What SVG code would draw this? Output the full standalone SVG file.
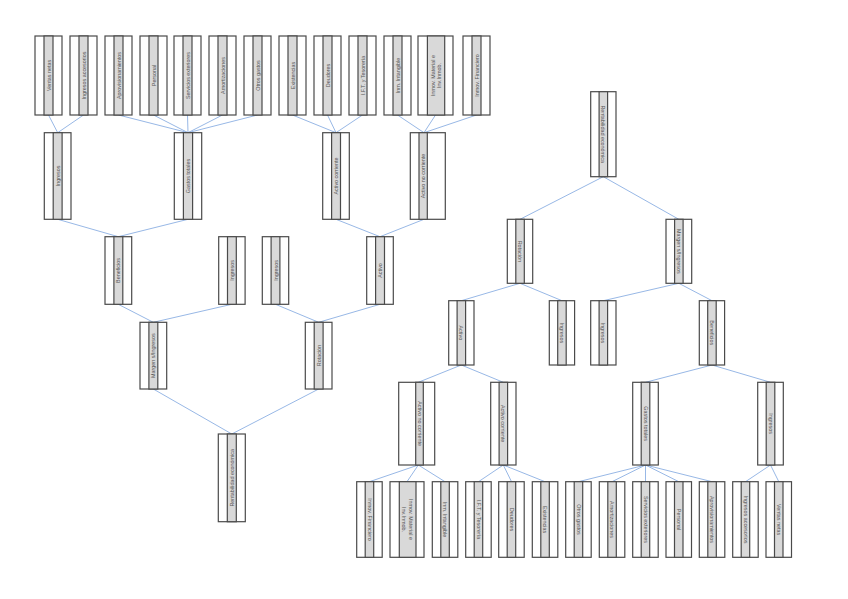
<svg xmlns="http://www.w3.org/2000/svg" width="848" height="599" viewBox="0 0 848 599">
<style>
.o{fill:#ffffff;stroke:#4a4a4a;stroke-width:1.2}
.m{fill:#d9d9d9;stroke:#4a4a4a;stroke-width:1.2}
.t{font-family:"Liberation Sans",Arial,sans-serif;font-size:5.4px;fill:#555555;text-anchor:middle;dominant-baseline:central}
.c line{stroke:#98b8e6;stroke-width:1}
</style>
<rect width="848" height="599" fill="#ffffff"/>
<g class="c" id="connectors">
<line x1="48.5" y1="115" x2="57.7" y2="132.7"/>
<line x1="83.5" y1="115" x2="57.7" y2="132.7"/>
<line x1="118.5" y1="115" x2="188" y2="132.7"/>
<line x1="153.5" y1="115" x2="188" y2="132.7"/>
<line x1="187.5" y1="115" x2="188" y2="132.7"/>
<line x1="222.5" y1="115" x2="188" y2="132.7"/>
<line x1="257.5" y1="115" x2="188" y2="132.7"/>
<line x1="292.5" y1="115" x2="336" y2="132.7"/>
<line x1="327.5" y1="115" x2="336" y2="132.7"/>
<line x1="362.5" y1="115" x2="336" y2="132.7"/>
<line x1="397.5" y1="115" x2="424" y2="132.7"/>
<line x1="435.5" y1="115" x2="424" y2="132.7"/>
<line x1="476.5" y1="115" x2="424" y2="132.7"/>
<line x1="57.7" y1="219.3" x2="118.3" y2="236.7"/>
<line x1="188" y1="219.3" x2="118.3" y2="236.7"/>
<line x1="336" y1="219.3" x2="380" y2="236.7"/>
<line x1="424" y1="219.3" x2="380" y2="236.7"/>
<line x1="118.3" y1="304.3" x2="153.3" y2="322.3"/>
<line x1="231.8" y1="304.3" x2="153.3" y2="322.3"/>
<line x1="275.5" y1="304.3" x2="318.7" y2="322.3"/>
<line x1="380" y1="304.3" x2="318.7" y2="322.3"/>
<line x1="153.3" y1="389" x2="231.8" y2="434"/>
<line x1="318.7" y1="389" x2="231.8" y2="434"/>
<line x1="603.3" y1="176.7" x2="520" y2="219.3"/>
<line x1="603.3" y1="176.7" x2="678.8" y2="219.3"/>
<line x1="520" y1="283.3" x2="461.3" y2="300.7"/>
<line x1="520" y1="283.3" x2="562" y2="300.7"/>
<line x1="678.8" y1="283.3" x2="603.3" y2="300.7"/>
<line x1="678.8" y1="283.3" x2="712" y2="300.7"/>
<line x1="461.3" y1="365" x2="418.3" y2="382.3"/>
<line x1="461.3" y1="365" x2="503.3" y2="382.3"/>
<line x1="712" y1="365" x2="645.5" y2="382.3"/>
<line x1="712" y1="365" x2="770.5" y2="382.3"/>
<line x1="418.3" y1="465" x2="369.5" y2="481.7"/>
<line x1="418.3" y1="465" x2="407" y2="481.7"/>
<line x1="418.3" y1="465" x2="445" y2="481.7"/>
<line x1="503.3" y1="465" x2="478.5" y2="481.7"/>
<line x1="503.3" y1="465" x2="511.5" y2="481.7"/>
<line x1="503.3" y1="465" x2="545" y2="481.7"/>
<line x1="645.5" y1="465" x2="578.5" y2="481.7"/>
<line x1="645.5" y1="465" x2="612" y2="481.7"/>
<line x1="645.5" y1="465" x2="645.5" y2="481.7"/>
<line x1="645.5" y1="465" x2="678.8" y2="481.7"/>
<line x1="645.5" y1="465" x2="712" y2="481.7"/>
<line x1="770.5" y1="465" x2="745.5" y2="481.7"/>
<line x1="770.5" y1="465" x2="778.8" y2="481.7"/>
</g>

<g id="L-ventas"><rect class="o" x="35" y="36" width="27" height="79"/><rect class="m" x="44" y="36" width="9" height="79"/><text class="t" transform="translate(48.5,75.5) rotate(-90)">Ventas netas</text></g>
<g id="L-ingacc"><rect class="o" x="70" y="36" width="27" height="79"/><rect class="m" x="79" y="36" width="9" height="79"/><text class="t" transform="translate(83.5,75.5) rotate(-90)">Ingresos accesorios</text></g>
<g id="L-aprov"><rect class="o" x="105" y="36" width="27" height="79"/><rect class="m" x="114" y="36" width="9" height="79"/><text class="t" transform="translate(118.5,75.5) rotate(-90)">Aprovisionamientos</text></g>
<g id="L-personal"><rect class="o" x="140" y="36" width="27" height="79"/><rect class="m" x="149" y="36" width="9" height="79"/><text class="t" transform="translate(153.5,75.5) rotate(-90)">Personal</text></g>
<g id="L-servext"><rect class="o" x="174" y="36" width="27" height="79"/><rect class="m" x="183" y="36" width="9" height="79"/><text class="t" transform="translate(187.5,75.5) rotate(-90)">Servicios exteriores</text></g>
<g id="L-amort"><rect class="o" x="209" y="36" width="27" height="79"/><rect class="m" x="218" y="36" width="9" height="79"/><text class="t" transform="translate(222.5,75.5) rotate(-90)">Amortizaciones</text></g>
<g id="L-otros"><rect class="o" x="244" y="36" width="27" height="79"/><rect class="m" x="253" y="36" width="9" height="79"/><text class="t" transform="translate(257.5,75.5) rotate(-90)">Otros gastos</text></g>
<g id="L-exist"><rect class="o" x="279" y="36" width="27" height="79"/><rect class="m" x="288" y="36" width="9" height="79"/><text class="t" transform="translate(292.5,75.5) rotate(-90)">Existencias</text></g>
<g id="L-deud"><rect class="o" x="314" y="36" width="27" height="79"/><rect class="m" x="323" y="36" width="9" height="79"/><text class="t" transform="translate(327.5,75.5) rotate(-90)">Deudores</text></g>
<g id="L-ift"><rect class="o" x="349" y="36" width="27" height="79"/><rect class="m" x="358" y="36" width="9" height="79"/><text class="t" transform="translate(362.5,75.5) rotate(-90)">I.F.T. y Tesorería</text></g>
<g id="L-inmint"><rect class="o" x="384" y="36" width="27" height="79"/><rect class="m" x="393" y="36" width="9" height="79"/><text class="t" transform="translate(397.5,75.5) rotate(-90)">Inm. Intangible</text></g>
<g id="L-inmmat"><rect class="o" x="418" y="36" width="35" height="79"/><rect class="m" x="427.4" y="36" width="17.3" height="79"/><text class="t" transform="translate(436,75.5) rotate(-90)"><tspan x="0" dy="-3.2">Inmov. Material e</tspan><tspan x="0" dy="6.6">Inv.Inmob.</tspan></text></g>
<g id="L-inmfin"><rect class="o" x="463" y="36" width="27" height="79"/><rect class="m" x="472" y="36" width="9" height="79"/><text class="t" transform="translate(476.5,75.5) rotate(-90)">Inmov. Financiero</text></g>

<g id="L-ingresos"><rect class="o" x="44.3" y="132.7" width="26.7" height="86.6"/><rect class="m" x="53.2" y="132.7" width="8.9" height="86.6"/><text class="t" transform="translate(57.7,176) rotate(-90)">Ingresos</text></g>
<g id="L-gastos"><rect class="o" x="174.3" y="132.7" width="27.4" height="86.6"/><rect class="m" x="183.4" y="132.7" width="9.2" height="86.6"/><text class="t" transform="translate(188,176) rotate(-90)">Gastos totales</text></g>
<g id="L-actcorr"><rect class="o" x="322.7" y="132.7" width="26.6" height="86.6"/><rect class="m" x="331.6" y="132.7" width="8.9" height="86.6"/><text class="t" transform="translate(336,176) rotate(-90)">Activo corriente</text></g>
<g id="L-actnocorr"><rect class="o" x="410.3" y="132.7" width="35" height="86.6"/><rect class="m" x="419" y="132.7" width="8.3" height="86.6"/><text class="t" transform="translate(423.2,176) rotate(-90)">Activo no corriente</text></g>

<g id="L-benef"><rect class="o" x="105" y="236.7" width="26.7" height="67.6"/><rect class="m" x="113.9" y="236.7" width="8.9" height="67.6"/><text class="t" transform="translate(118.3,270.5) rotate(-90)">Beneficios</text></g>
<g id="L-ingresos2"><rect class="o" x="218.7" y="236.7" width="26.4" height="67.6"/><rect class="m" x="227.5" y="236.7" width="8.8" height="67.6"/><text class="t" transform="translate(231.9,270.5) rotate(-90)">Ingresos</text></g>
<g id="L-ingresos3"><rect class="o" x="262.3" y="236.7" width="26.4" height="67.6"/><rect class="m" x="271.1" y="236.7" width="8.8" height="67.6"/><text class="t" transform="translate(275.5,270.5) rotate(-90)">Ingresos</text></g>
<g id="L-activo"><rect class="o" x="366.7" y="236.7" width="26.6" height="67.6"/><rect class="m" x="375.6" y="236.7" width="8.9" height="67.6"/><text class="t" transform="translate(380,270.5) rotate(-90)">Activo</text></g>

<g id="L-margen"><rect class="o" x="140" y="322.3" width="26.7" height="66.7"/><rect class="m" x="148.9" y="322.3" width="8.9" height="66.7"/><text class="t" transform="translate(153.3,355.6) rotate(-90)">Margen s/Ingresos</text></g>
<g id="L-rotacion"><rect class="o" x="305.3" y="322.3" width="26.7" height="66.7"/><rect class="m" x="314.2" y="322.3" width="8.9" height="66.7"/><text class="t" transform="translate(318.7,355.6) rotate(-90)">Rotación</text></g>

<g id="L-rentab"><rect class="o" x="218.3" y="434" width="27" height="87.7"/><rect class="m" x="227.3" y="434" width="9" height="87.7"/><text class="t" transform="translate(231.8,477.8) rotate(-90)">Rentabilidad económica</text></g>

<g id="R-rentab"><rect class="o" x="590.7" y="91.7" width="25.3" height="85"/><rect class="m" x="599.1" y="91.7" width="8.5" height="85"/><text class="t" transform="translate(603.3,134.2) rotate(90)">Rentabilidad económica</text></g>

<g id="R-rotacion"><rect class="o" x="507.3" y="219.3" width="25.4" height="64"/><rect class="m" x="515.8" y="219.3" width="8.5" height="64"/><text class="t" transform="translate(520,251.3) rotate(90)">Rotación</text></g>
<g id="R-margen"><rect class="o" x="666" y="219.3" width="25.7" height="64"/><rect class="m" x="674.6" y="219.3" width="8.5" height="64"/><text class="t" transform="translate(678.8,251.3) rotate(90)">Margen s/Ingresos</text></g>

<g id="R-activo"><rect class="o" x="448.7" y="300.7" width="25.3" height="64.3"/><rect class="m" x="457.1" y="300.7" width="8.5" height="64.3"/><text class="t" transform="translate(461.3,332.8) rotate(90)">Activo</text></g>
<g id="R-ingresos1"><rect class="o" x="549.3" y="300.7" width="25.3" height="64.3"/><rect class="m" x="557.7" y="300.7" width="8.5" height="64.3"/><text class="t" transform="translate(562,332.8) rotate(90)">Ingresos</text></g>
<g id="R-ingresos2"><rect class="o" x="590.7" y="300.7" width="25.3" height="64.3"/><rect class="m" x="599.1" y="300.7" width="8.5" height="64.3"/><text class="t" transform="translate(603.3,332.8) rotate(90)">Ingresos</text></g>
<g id="R-benef"><rect class="o" x="699.3" y="300.7" width="25.3" height="64.3"/><rect class="m" x="707.7" y="300.7" width="8.5" height="64.3"/><text class="t" transform="translate(712,332.8) rotate(90)">Beneficios</text></g>

<g id="R-actnocorr"><rect class="o" x="398.7" y="382.3" width="36" height="82.7"/><rect class="m" x="415.7" y="382.3" width="7.6" height="82.7"/><text class="t" transform="translate(419.5,423.6) rotate(90)">Activo no corriente</text></g>
<g id="R-actcorr"><rect class="o" x="490.7" y="382.3" width="25.3" height="82.7"/><rect class="m" x="499.1" y="382.3" width="8.5" height="82.7"/><text class="t" transform="translate(503.3,423.6) rotate(90)">Activo corriente</text></g>
<g id="R-gastos"><rect class="o" x="632.7" y="382.3" width="25.6" height="82.7"/><rect class="m" x="641.2" y="382.3" width="8.6" height="82.7"/><text class="t" transform="translate(645.5,423.6) rotate(90)">Gastos totales</text></g>
<g id="R-ingresos"><rect class="o" x="757.7" y="382.3" width="25.6" height="82.7"/><rect class="m" x="766.2" y="382.3" width="8.6" height="82.7"/><text class="t" transform="translate(770.5,423.6) rotate(90)">Ingresos</text></g>

<g id="R-inmfin"><rect class="o" x="356.7" y="481.7" width="25.5" height="75.6"/><rect class="m" x="365.2" y="481.7" width="8.5" height="75.6"/><text class="t" transform="translate(369.5,519.5) rotate(90)">Inmov. Financiero</text></g>
<g id="R-inmmat"><rect class="o" x="390" y="481.7" width="34" height="75.6"/><rect class="m" x="399.3" y="481.7" width="16.7" height="75.6"/><text class="t" transform="translate(407.6,519.5) rotate(90)"><tspan x="0" dy="-3.2">Inmov. Material e</tspan><tspan x="0" dy="6.6">Inv.Inmob.</tspan></text></g>
<g id="R-inmint"><rect class="o" x="432.3" y="481.7" width="25.5" height="75.6"/><rect class="m" x="440.8" y="481.7" width="8.5" height="75.6"/><text class="t" transform="translate(445,519.5) rotate(90)">Inm. Intangible</text></g>
<g id="R-ift"><rect class="o" x="465.7" y="481.7" width="25.5" height="75.6"/><rect class="m" x="474.2" y="481.7" width="8.5" height="75.6"/><text class="t" transform="translate(478.5,519.5) rotate(90)">I.F.T. y Tesorería</text></g>
<g id="R-deud"><rect class="o" x="498.7" y="481.7" width="25.5" height="75.6"/><rect class="m" x="507.2" y="481.7" width="8.5" height="75.6"/><text class="t" transform="translate(511.5,519.5) rotate(90)">Deudores</text></g>
<g id="R-exist"><rect class="o" x="532.3" y="481.7" width="25.5" height="75.6"/><rect class="m" x="540.8" y="481.7" width="8.5" height="75.6"/><text class="t" transform="translate(545,519.5) rotate(90)">Existencias</text></g>
<g id="R-otros"><rect class="o" x="565.7" y="481.7" width="25.5" height="75.6"/><rect class="m" x="574.2" y="481.7" width="8.5" height="75.6"/><text class="t" transform="translate(578.5,519.5) rotate(90)">Otros gastos</text></g>
<g id="R-amort"><rect class="o" x="599.3" y="481.7" width="25.5" height="75.6"/><rect class="m" x="607.8" y="481.7" width="8.5" height="75.6"/><text class="t" transform="translate(612,519.5) rotate(90)">Amortizaciones</text></g>
<g id="R-servext"><rect class="o" x="632.7" y="481.7" width="25.5" height="75.6"/><rect class="m" x="641.2" y="481.7" width="8.5" height="75.6"/><text class="t" transform="translate(645.5,519.5) rotate(90)">Servicios exteriores</text></g>
<g id="R-personal"><rect class="o" x="666" y="481.7" width="25.5" height="75.6"/><rect class="m" x="674.5" y="481.7" width="8.5" height="75.6"/><text class="t" transform="translate(678.8,519.5) rotate(90)">Personal</text></g>
<g id="R-aprov"><rect class="o" x="699.3" y="481.7" width="25.5" height="75.6"/><rect class="m" x="707.8" y="481.7" width="8.5" height="75.6"/><text class="t" transform="translate(712,519.5) rotate(90)">Aprovisionamientos</text></g>
<g id="R-ingacc"><rect class="o" x="732.7" y="481.7" width="25.5" height="75.6"/><rect class="m" x="741.2" y="481.7" width="8.5" height="75.6"/><text class="t" transform="translate(745.5,519.5) rotate(90)">Ingresos accesorios</text></g>
<g id="R-ventas"><rect class="o" x="766" y="481.7" width="25.5" height="75.6"/><rect class="m" x="774.5" y="481.7" width="8.5" height="75.6"/><text class="t" transform="translate(778.8,519.5) rotate(90)">Ventas netas</text></g>
</svg>
